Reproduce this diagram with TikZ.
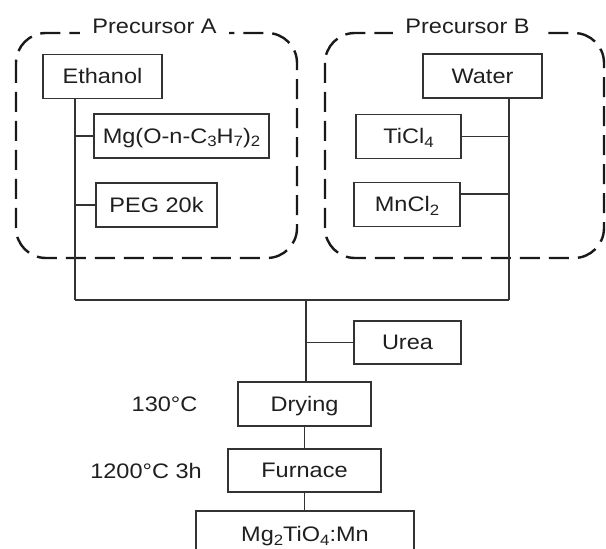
\documentclass[tikz,border=0pt]{standalone}
\usepackage{fontspec}
\setmainfont{Liberation Sans}[FakeStretch=1.12]
\newcommand{\sbs}[1]{\raisebox{-0.3ex}{\fontsize{7.5}{8}\selectfont #1}}
\begin{document}
\begin{tikzpicture}[x=0.5pt,y=-0.5pt,
  every node/.style={font=\fontsize{10.5}{12}\selectfont, text=black!88},
  stepbox/.style={draw=black!80, line width=0.55pt, inner sep=0pt,
    text height=0.9em, text depth=0.18em, minimum height=22pt},
  link/.style={draw=black!80, line width=0.55pt},
  group/.style={draw=black!90, line width=1.2pt, dash pattern=on 10pt off 4.5pt, rounded corners=15pt},
  grouplabel/.style={fill=white, inner xsep=6pt, inner ysep=1pt, text height=0.9em, text depth=0.18em}]
\useasboundingbox (0,0) rectangle (606,549);
% groups
\draw[group] (16,33) rectangle (297,258);
\draw[group] (325,33) rectangle (604,258);
\node[grouplabel] (labA) at (154.5,26) {Precursor A};
\node[grouplabel] (labB) at (467.5,26) {Precursor B};
% boxes
\node[stepbox, minimum width=59.5pt] (eth) at (102.5,76.5) {Ethanol};
\node[stepbox, minimum width=87.5pt] (mg) at (181.5,136) {Mg(O-n-C\sbs{3}H\sbs{7})\sbs{2}};
\node[stepbox, minimum width=60.5pt] (peg) at (156.5,205) {PEG 20k};
\node[stepbox, minimum width=59.5pt] (wat) at (482.5,76) {Water};
\node[stepbox, minimum width=52.5pt] (ti) at (408.5,136.5) {TiCl\sbs{4}};
\node[stepbox, minimum width=53pt] (mn) at (407,204.5) {MnCl\sbs{2}};
\node[stepbox, minimum width=53.5pt, minimum height=21.5pt] (urea) at (407.5,342.5) {Urea};
\node[stepbox, minimum width=66.5pt] (dry) at (304.5,404) {Drying};
\node[stepbox, minimum width=76.5pt, minimum height=21.5pt] (fur) at (304.5,470.5) {Furnace};
\node[inner sep=0pt, text height=0.9em, text depth=0.18em] (prod) at (305,534.5) {Mg\sbs{2}TiO\sbs{4}:Mn};
\node (t1) at (164.5,404) {130°C};
\node (t2) at (146,470.5) {1200°C 3h};
% junctions
\coordinate (jA) at (75,300);
\coordinate (jB) at (509,300);
\coordinate (jC) at (306,300);
\coordinate (jM) at (509,194);
\coordinate (pl) at (196,511);
\coordinate (pr) at (414,511);
\coordinate (pt) at (304.5,511);
% connectors
\draw[link] (eth.south -| jA) -- (jA);
\draw[link] (mg.west) -- (mg.west -| jA);
\draw[link] (peg.west) -- (peg.west -| jA);
\draw[link] (wat.south -| jB) -- (jB);
\draw[link] (ti.east) -- (ti.east -| jB);
\draw[link] (jM -| mn.east) -- (jM);
\draw[link] (jA) -- (jB);
\draw[link] (jC) -- (dry.north -| jC);
\draw[link] (urea.west) -- (urea.west -| jC);
\draw[link] (dry.south) -- (fur.north);
\draw[link] (fur.south) -- (pt);
\draw[link] (196,560) -- (pl) -- (pr) -- (414,560);
\end{tikzpicture}
\end{document}
